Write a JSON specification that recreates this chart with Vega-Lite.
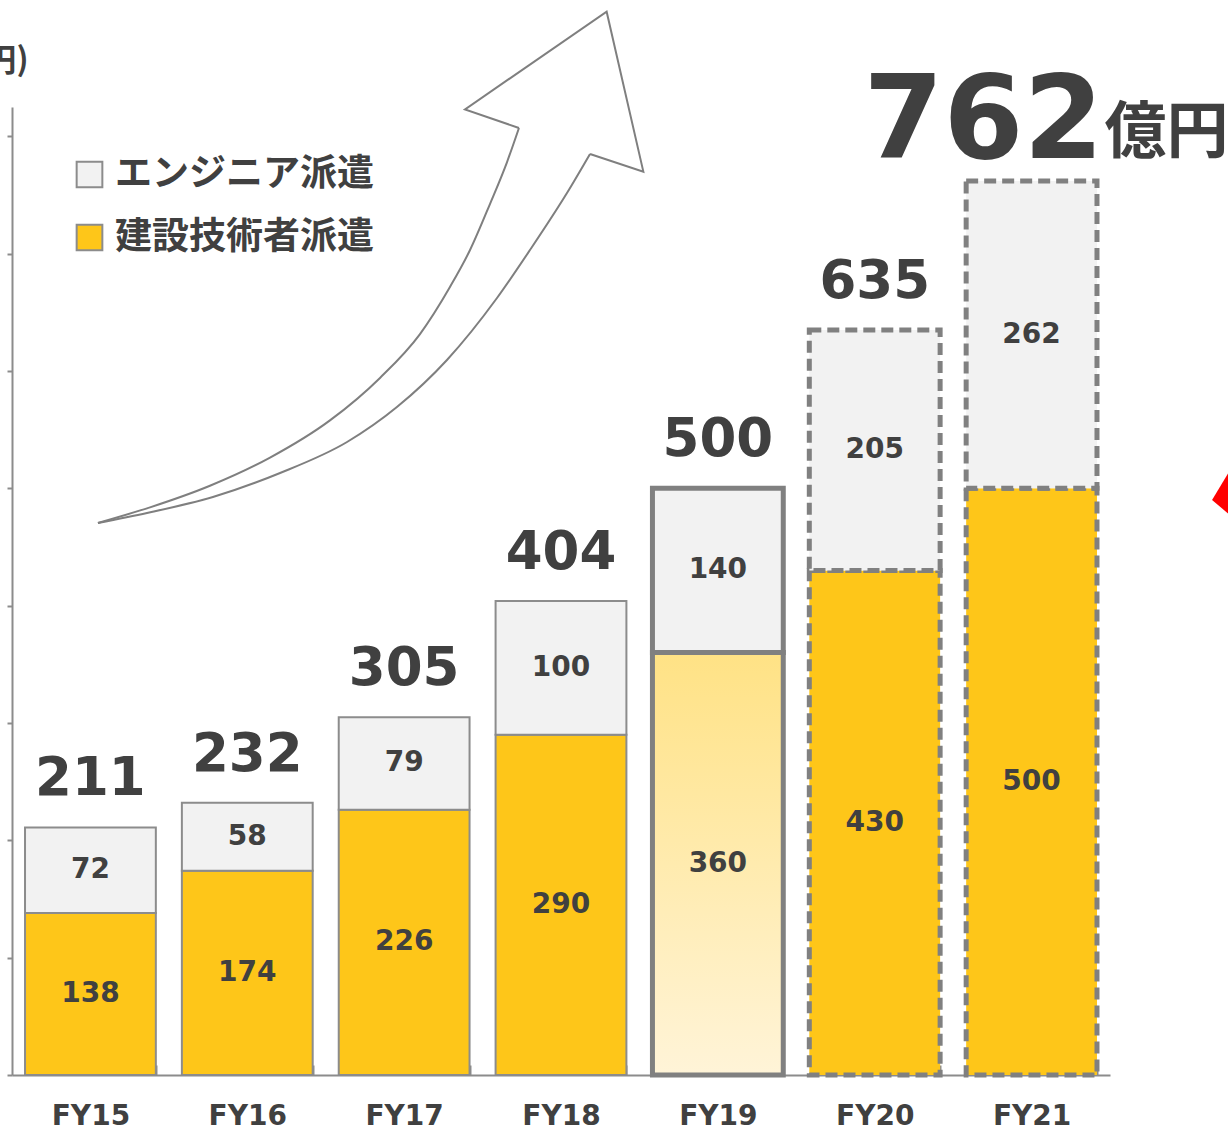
{
  "$schema": "https://vega.github.io/schema/vega-lite/v6.json",
  "width": 1098,
  "height": 968,
  "autosize": {"type": "none"},
  "padding": {"left": 12, "top": 107, "right": 118, "bottom": 55},
  "background": "white",
  "config": {
    "view": {"stroke": null},
    "axisX": {
      "domainColor": "#8C8C8C", "domainWidth": 2,
      "tickColor": "#8C8C8C", "tickWidth": 2, "tickSize": -10, "tickBand": "extent",
      "labelFont": "DejaVu Sans", "labelFontWeight": "bold", "labelFontSize": 28,
      "labelColor": "#404040", "labelPadding": 37, "labelAngle": 0, "grid": false
    },
    "axisY": {
      "domainColor": "#8C8C8C", "domainWidth": 2,
      "tickColor": "#8C8C8C", "tickWidth": 2, "tickSize": 5, "tickCount": 9,
      "labels": false, "grid": false,
      "titleFont": "Noto Sans CJK JP", "titleFontWeight": "bold", "titleFontSize": 32,
      "titleColor": "#404040", "titleAngle": 0, "titleX": 16, "titleY": -47,
      "titleAlign": "right", "titleBaseline": "middle"
    }
  },
  "datasets": {
    "sales": [
      {"year": "FY15", "construction": 138, "engineer": 72, "total": 211, "status": "実績"},
      {"year": "FY16", "construction": 174, "engineer": 58, "total": 232, "status": "実績"},
      {"year": "FY17", "construction": 226, "engineer": 79, "total": 305, "status": "実績"},
      {"year": "FY18", "construction": 290, "engineer": 100, "total": 404, "status": "実績"},
      {"year": "FY19", "construction": 360, "engineer": 140, "total": 500, "status": "見込"},
      {"year": "FY20", "construction": 430, "engineer": 205, "total": 635, "status": "計画"},
      {"year": "FY21", "construction": 500, "engineer": 262, "total": 762, "status": "計画"}
    ],
    "arrow": [
      {"part": "upper", "seq": 1, "u": 0.548, "v": 470.5},
      {"part": "upper", "seq": 2, "u": 0.880, "v": 483.8},
      {"part": "upper", "seq": 3, "u": 1.262, "v": 502.2},
      {"part": "upper", "seq": 4, "u": 1.645, "v": 526.2},
      {"part": "upper", "seq": 5, "u": 2.027, "v": 557.9},
      {"part": "upper", "seq": 6, "u": 2.346, "v": 594.1},
      {"part": "upper", "seq": 7, "u": 2.601, "v": 631.5},
      {"part": "upper", "seq": 8, "u": 2.792, "v": 671.6},
      {"part": "upper", "seq": 9, "u": 2.920, "v": 703.1},
      {"part": "upper", "seq": 10, "u": 3.047, "v": 742.3},
      {"part": "upper", "seq": 11, "u": 3.156, "v": 778.1},
      {"part": "upper", "seq": 12, "u": 3.232, "v": 807.1},
      {"part": "head", "seq": 12, "u": 3.232, "v": 807.1},
      {"part": "head", "seq": 13, "u": 2.888, "v": 823.0},
      {"part": "head", "seq": 14, "u": 3.791, "v": 906.2},
      {"part": "head", "seq": 15, "u": 4.025, "v": 769.9},
      {"part": "head", "seq": 16, "u": 3.685, "v": 785.0},
      {"part": "lower", "seq": 16, "u": 3.685, "v": 785.0},
      {"part": "lower", "seq": 17, "u": 3.538, "v": 751.7},
      {"part": "lower", "seq": 18, "u": 3.302, "v": 703.1},
      {"part": "lower", "seq": 19, "u": 3.092, "v": 662.2},
      {"part": "lower", "seq": 20, "u": 2.773, "v": 609.4},
      {"part": "lower", "seq": 21, "u": 2.454, "v": 569.3},
      {"part": "lower", "seq": 22, "u": 2.136, "v": 539.5},
      {"part": "lower", "seq": 23, "u": 1.709, "v": 513.1},
      {"part": "lower", "seq": 24, "u": 1.281, "v": 492.6},
      {"part": "lower", "seq": 25, "u": 0.861, "v": 479.0},
      {"part": "lower", "seq": 26, "u": 0.548, "v": 470.5}
    ],
    "marker": [
      {"u": 7.81, "v": 490}
    ]
  },
  "layer": [
    {
      "layer": [
        {
          "data": {"name": "arrow"},
          "transform": [{"filter": "datum.part !== 'head'"}],
          "mark": {"type": "line", "interpolate": "monotone", "stroke": "#7F7F7F", "strokeWidth": 2},
          "encoding": {
            "x": {"field": "u", "type": "quantitative", "scale": {"domain": [0, 7], "nice": false, "zero": false}, "axis": null},
            "y": {"field": "v", "type": "quantitative", "scale": {"domain": [0, 825], "nice": false}, "title": "(億円)"},
            "detail": {"field": "part"},
            "order": {"field": "u"}
          }
        },
        {
          "data": {"name": "arrow"},
          "transform": [{"filter": "datum.part === 'head'"}],
          "mark": {"type": "line", "interpolate": "linear", "stroke": "#7F7F7F", "strokeWidth": 2, "strokeJoin": "miter"},
          "encoding": {
            "x": {"field": "u", "type": "quantitative", "scale": {"domain": [0, 7], "nice": false, "zero": false}, "axis": null},
            "y": {"field": "v", "type": "quantitative", "scale": {"domain": [0, 825], "nice": false}, "title": "(億円)"},
            "order": {"field": "seq"}
          }
        },
        {
          "data": {"name": "marker"},
          "mark": {"type": "point", "shape": "M-1,0L1,-3.33L1,1.67Z", "size": 2500, "filled": true, "color": "#FF0000", "opacity": 1, "strokeWidth": 0},
          "encoding": {
            "x": {"field": "u", "type": "quantitative", "scale": {"domain": [0, 7], "nice": false, "zero": false}, "axis": null},
            "y": {"field": "v", "type": "quantitative", "scale": {"domain": [0, 825], "nice": false}, "title": "(億円)"}
          }
        }
      ]
    },
    {
      "data": {"name": "sales"},
      "encoding": {
        "x": {"field": "year", "type": "nominal", "sort": null, "title": null, "scale": {"paddingInner": 0.166, "paddingOuter": 0.083}}
      },
      "layer": [
        {
          "transform": [{"filter": "datum.status === '実績'"}],
          "mark": {"type": "bar", "stroke": "#8C8C8C", "strokeWidth": 2},
          "encoding": {
            "y": {"field": "construction", "type": "quantitative", "scale": {"domain": [0, 825], "nice": false}, "title": "(億円)"},
            "color": {
              "datum": "建設技術者派遣", "type": "nominal",
              "scale": {"domain": ["エンジニア派遣", "建設技術者派遣"], "range": ["#F2F2F2", "#FEC619"]},
              "legend": {
                "title": null, "orient": "none", "legendX": 59, "legendY": 49, "direction": "vertical",
                "symbolType": "square", "symbolSize": 660, "symbolStrokeColor": "#808080", "symbolStrokeWidth": 2,
                "labelFont": "Noto Sans CJK JP", "labelFontWeight": "bold", "labelFontSize": 37,
                "labelColor": "#404040", "labelOffset": 7, "rowPadding": 25, "labelLimit": 400
              }
            }
          }
        },
        {
          "transform": [{"filter": "datum.status === '実績'"}],
          "mark": {"type": "bar", "stroke": "#8C8C8C", "strokeWidth": 2},
          "encoding": {
            "y": {"field": "total", "type": "quantitative", "scale": {"domain": [0, 825], "nice": false}, "title": "(億円)"},
            "y2": {"field": "construction"},
            "color": {"datum": "エンジニア派遣", "type": "nominal"}
          }
        },
        {
          "transform": [{"filter": "datum.status === '見込'"}],
          "mark": {"type": "bar", "stroke": "#808080", "strokeWidth": 5, "fill": {"gradient": "linear", "x1": 0, "y1": 0, "x2": 0, "y2": 1, "stops": [{"offset": 0, "color": "#FFE285"}, {"offset": 1, "color": "#FFF4D8"}]}},
          "encoding": {
            "y": {"field": "construction", "type": "quantitative", "scale": {"domain": [0, 825], "nice": false}, "title": "(億円)"}
          }
        },
        {
          "transform": [{"filter": "datum.status === '見込'"}],
          "mark": {"type": "bar", "stroke": "#808080", "strokeWidth": 5},
          "encoding": {
            "y": {"field": "total", "type": "quantitative", "scale": {"domain": [0, 825], "nice": false}, "title": "(億円)"},
            "y2": {"field": "construction"},
            "color": {"datum": "エンジニア派遣", "type": "nominal"}
          }
        },
        {
          "transform": [{"filter": "datum.status === '計画'"}],
          "mark": {"type": "bar", "stroke": "#808080", "strokeWidth": 5, "strokeDash": [12, 6]},
          "encoding": {
            "y": {"field": "construction", "type": "quantitative", "scale": {"domain": [0, 825], "nice": false}, "title": "(億円)"},
            "color": {"datum": "建設技術者派遣", "type": "nominal"}
          }
        },
        {
          "transform": [{"filter": "datum.status === '計画'"}],
          "mark": {"type": "bar", "stroke": "#808080", "strokeWidth": 5, "strokeDash": [12, 6]},
          "encoding": {
            "y": {"field": "total", "type": "quantitative", "scale": {"domain": [0, 825], "nice": false}, "title": "(億円)"},
            "y2": {"field": "construction"},
            "color": {"datum": "エンジニア派遣", "type": "nominal"}
          }
        },
        {
          "transform": [
            {"stack": "construction", "groupby": ["year"], "as": ["c0", "c1"]},
            {"fold": ["c0", "c1"], "as": ["edge", "pos"]}
          ],
          "mark": {"type": "text", "font": "DejaVu Sans", "fontWeight": "bold", "fontSize": 28, "color": "#404040", "baseline": "middle"},
          "encoding": {
            "y": {"aggregate": "mean", "field": "pos", "type": "quantitative", "scale": {"domain": [0, 825], "nice": false}, "title": "(億円)"},
            "text": {"field": "construction", "type": "quantitative"}
          }
        },
        {
          "transform": [
            {"fold": ["construction", "total"], "as": ["edge", "pos"]}
          ],
          "mark": {"type": "text", "font": "DejaVu Sans", "fontWeight": "bold", "fontSize": 28, "color": "#404040", "baseline": "middle"},
          "encoding": {
            "y": {"aggregate": "mean", "field": "pos", "type": "quantitative", "scale": {"domain": [0, 825], "nice": false}, "title": "(億円)"},
            "text": {"field": "engineer", "type": "quantitative"}
          }
        },
        {
          "transform": [{"filter": "datum.year !== 'FY21'"}],
          "mark": {"type": "text", "font": "DejaVu Sans", "fontWeight": "bold", "fontSize": 53, "color": "#404040", "baseline": "alphabetic", "dy": -32},
          "encoding": {
            "y": {"field": "total", "type": "quantitative", "scale": {"domain": [0, 825], "nice": false}, "title": "(億円)"},
            "text": {"field": "total", "type": "quantitative"}
          }
        },
        {
          "transform": [{"filter": "datum.year === 'FY21'"}],
          "mark": {"type": "text", "font": "DejaVu Sans", "fontWeight": "bold", "fontSize": 115, "color": "#404040", "baseline": "alphabetic", "align": "right", "dx": 72, "dy": -23},
          "encoding": {
            "y": {"field": "total", "type": "quantitative", "scale": {"domain": [0, 825], "nice": false}, "title": "(億円)"},
            "text": {"field": "total", "type": "quantitative"}
          }
        },
        {
          "transform": [{"filter": "datum.year === 'FY21'"}],
          "mark": {"type": "text", "text": "億円", "font": "Noto Sans CJK JP", "fontWeight": "bold", "fontSize": 62, "color": "#404040", "baseline": "alphabetic", "align": "left", "dx": 73, "dy": -28},
          "encoding": {
            "y": {"field": "total", "type": "quantitative", "scale": {"domain": [0, 825], "nice": false}, "title": "(億円)"}
          }
        }
      ]
    }
  ],
  "resolve": {"scale": {"x": "independent"}}
}
